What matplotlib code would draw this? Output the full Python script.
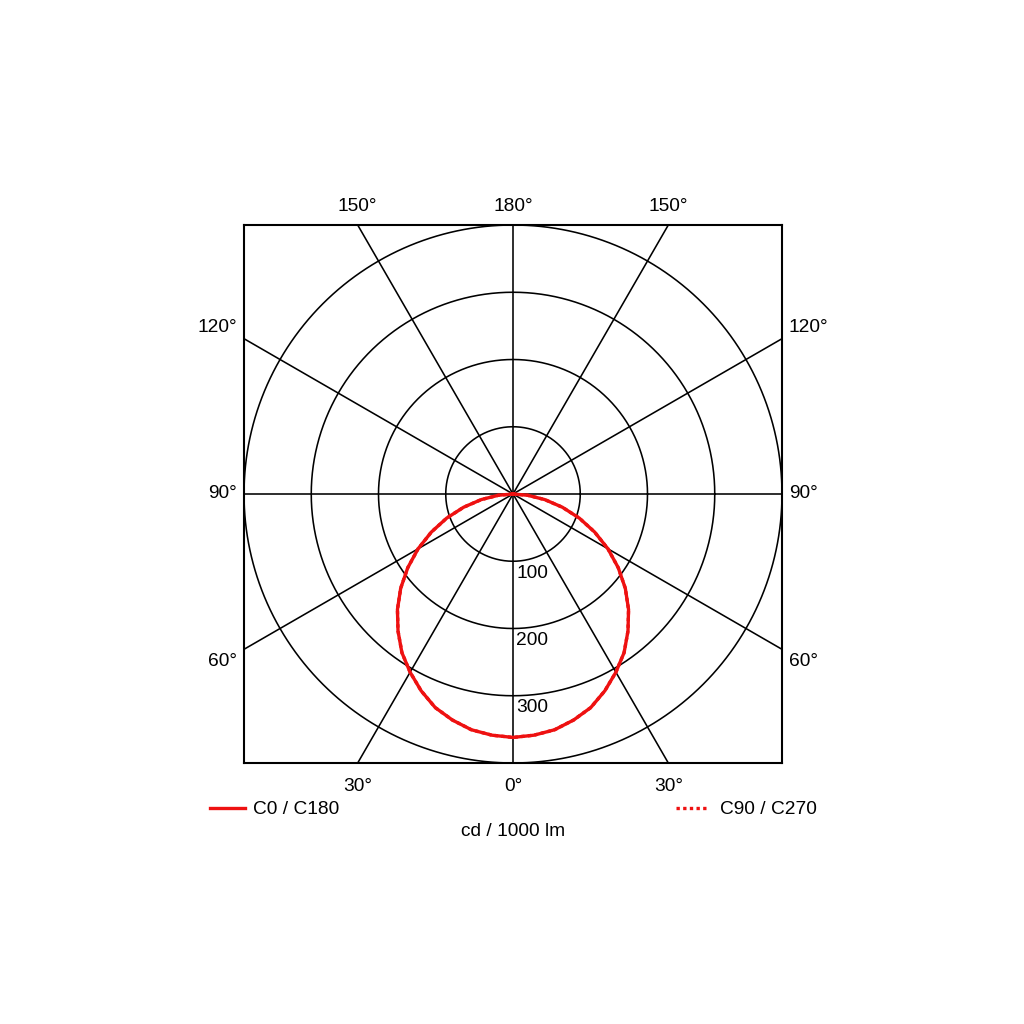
import numpy as np
import matplotlib.pyplot as plt

plt.rcParams['font.family'] = ['Liberation Sans', 'DejaVu Sans']

# Luminous intensity (cd / 1000 lm), gamma 0..90 deg
gamma = [0, 5, 10, 15, 20, 25, 30, 35, 40, 45,
         50, 55, 60, 65, 70, 75, 80, 85, 90]
c0_c180 = [362, 360, 356, 348, 338, 323, 306, 288, 266, 243,
           218, 191, 163, 134, 105, 76, 48, 22, 0]
c90_c270 = [362, 360, 356, 348, 338, 323, 306, 288, 266, 243,
            218, 191, 163, 134, 105, 76, 48, 22, 0]

rings = [100, 200, 300, 400]
ring_labels = ['100', '200', '300']
spokes = np.arange(0, 360, 30)
rmax = 400
red = '#ee1111'


def to_xy(ang_deg, r):
    # 0 deg points down, 180 deg points up
    a = np.radians(ang_deg)
    return np.asarray(r) * np.sin(a), -np.asarray(r) * np.cos(a)


def mirror(ang, vals):
    ang = np.asarray(ang, float)
    vals = np.asarray(vals, float)
    full_ang = np.concatenate([-ang[::-1], ang[1:]])
    full_val = np.concatenate([vals[::-1], vals[1:]])
    return full_ang, full_val


fig = plt.figure(figsize=(10.24, 10.24), dpi=100)
ax = fig.add_axes([244 / 1024, 1 - 763 / 1024, 538 / 1024, 538 / 1024])
ax.set_xlim(-rmax, rmax)
ax.set_ylim(-rmax, rmax)
ax.set_aspect('equal')
ax.set_xticks([])
ax.set_yticks([])
for s in ax.spines.values():
    s.set_linewidth(1.5)

# grid circles
t = np.linspace(0, 2 * np.pi, 721)
for r in rings:
    ax.plot(r * np.cos(t), r * np.sin(t), color='black', lw=1.15)

# spokes, clipped by the box
for a in spokes:
    x, y = to_xy(a, [0, 2 * rmax])
    ax.plot(x, y, color='black', lw=1.15)

fs = 13.8

# ring labels
for r, lab in zip(rings, ring_labels):
    ax.text(5, -r - 5, lab, ha='left', va='top', fontsize=fs)

# curves
a1, v1 = mirror(gamma, c0_c180)
x1, y1 = to_xy(a1, v1)
ax.plot(x1, y1, color=red, lw=2.4, solid_joinstyle='round')
a2, v2 = mirror(gamma, c90_c270)
x2, y2 = to_xy(a2, v2)
ax.plot(x2, y2, color=red, lw=2.4, ls=(0, (1, 1)))

# angle labels
edge = rmax * np.tan(np.radians(30))
ax.text(0, rmax + 15, '180°', ha='center', va='bottom', fontsize=fs)
ax.text(-edge, rmax + 15, '150°', ha='center', va='bottom', fontsize=fs)
ax.text(edge, rmax + 15, '150°', ha='center', va='bottom', fontsize=fs)
ax.text(0, -rmax - 22, '0°', ha='center', va='top', fontsize=fs)
ax.text(-edge, -rmax - 22, '30°', ha='center', va='top', fontsize=fs)
ax.text(edge, -rmax - 22, '30°', ha='center', va='top', fontsize=fs)
for yy, lab in [(edge + 16, '120°'), (0, '90°'), (-edge - 18, '60°')]:
    ax.text(-rmax - 10, yy, lab, ha='right', va='center', fontsize=fs)
    ax.text(rmax + 10, yy, lab, ha='left', va='center', fontsize=fs)

# legend and unit
fig.lines.append(plt.Line2D([210 / 1024, 245 / 1024], [1 - 808 / 1024] * 2,
                            color=red, lw=2.4, transform=fig.transFigure))
fig.text(253 / 1024, 1 - 809 / 1024, 'C0 / C180', ha='left', va='center', fontsize=fs)
fig.lines.append(plt.Line2D([676 / 1024, 708 / 1024], [1 - 808 / 1024] * 2,
                            color=red, lw=2.4, ls=(0, (1, 1)),
                            transform=fig.transFigure))
fig.text(720 / 1024, 1 - 809 / 1024, 'C90 / C270', ha='left', va='center', fontsize=fs)
fig.text(513 / 1024, 1 - 831 / 1024, 'cd / 1000 lm', ha='center', va='center', fontsize=fs)

fig.savefig('out.png', dpi=100, facecolor='white')
